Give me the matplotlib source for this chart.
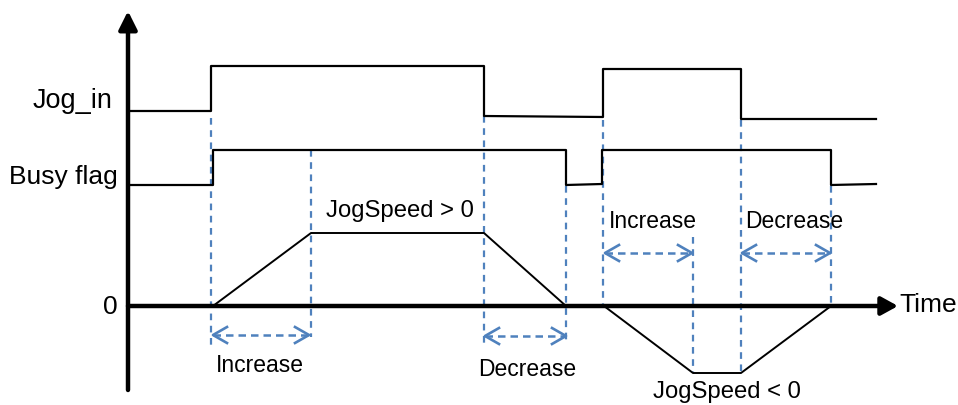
import matplotlib.pyplot as plt

plt.rcParams['font.family'] = ['Liberation Sans', 'DejaVu Sans']

# waveforms, in picture units (x = time, y grows downward)
jog_t = [128, 211, 211, 484, 484, 603, 603, 741, 741, 876]
jog_y = [111, 111, 66, 66, 116, 117, 69, 69, 119, 119]

busy_t = [128, 213, 213, 566, 566, 602, 602, 831, 831, 876]
busy_y = [185, 185, 150, 150, 185, 184, 150, 150, 185, 184]

speed_t = [213, 311, 484, 566, 604, 693, 741, 831]
speed_y = [306, 233, 233, 306, 306, 373, 373, 306]

# blue dashed guides
guide_x = [211, 311, 484, 566, 603, 693, 741, 831]
guide_top = [118, 150, 116, 186, 120, 237, 120, 186]
guide_bot = [345, 337, 345, 340, 306, 373, 373, 306]

# Increase / Decrease intervals: start, end, height
span_start = [213, 485, 605, 742]
span_end = [309, 566, 692, 830]
span_y = [335, 336, 253, 253]

zero_y = 306
axis_x = 128

blue = '#4f81bd'

fig = plt.figure(figsize=(9.58, 4.05), dpi=100)
ax = fig.add_axes([0, 0, 1, 1])
ax.set_xlim(0, 958)
ax.set_ylim(405, 0)
ax.axis('off')

# axes arrows
ax.annotate('', xy=(axis_x, 11), xytext=(axis_x, 390),
            arrowprops=dict(arrowstyle='-|>,head_length=1.1,head_width=0.55',
                            lw=3.2, color='k', shrinkA=0, shrinkB=0))
ax.annotate('', xy=(898, zero_y), xytext=(axis_x, zero_y),
            arrowprops=dict(arrowstyle='-|>,head_length=1.0,head_width=0.55',
                            lw=3.2, color='k', shrinkA=0, shrinkB=0))

# guides
for x, t, b in zip(guide_x, guide_top, guide_bot):
    ax.plot([x, x], [t, b], color=blue, lw=1.6, ls=(0, (3, 2.5)))

# waveforms
ax.plot(jog_t, jog_y, color='k', lw=1.6)
ax.plot(busy_t, busy_y, color='k', lw=1.6)
ax.plot(speed_t, speed_y, color='k', lw=1.4)

# interval arrows
hl, hw = 14, 8
for a, b, y in zip(span_start, span_end, span_y):
    ax.plot([a, b], [y, y], color=blue, lw=1.8, ls=(0, (3, 2)))
    ax.plot([a + hl, a, a + hl], [y - hw, y, y + hw], color=blue, lw=1.9)
    ax.plot([b - hl, b, b - hl], [y - hw, y, y + hw], color=blue, lw=1.9)

# labels
ax.text(112, 101, 'Jog_in', ha='right', va='center', fontsize=19.5)
ax.text(118, 177, 'Busy flag', ha='right', va='center', fontsize=19)
ax.text(118, 307, '0', ha='right', va='center', fontsize=19)
ax.text(899, 305, 'Time', ha='left', va='center', fontsize=19)
ax.text(400, 211, 'JogSpeed > 0', ha='center', va='center', fontsize=17.2)
ax.text(727, 392, 'JogSpeed < 0', ha='center', va='center', fontsize=17.2)
ax.text(260, 366, 'Increase', ha='center', va='center', fontsize=16.5)
ax.text(527, 370, 'Decrease', ha='center', va='center', fontsize=16.5)
ax.text(653, 222, 'Increase', ha='center', va='center', fontsize=16.5)
ax.text(794, 222, 'Decrease', ha='center', va='center', fontsize=16.5)

fig.savefig('out.png', dpi=100)
